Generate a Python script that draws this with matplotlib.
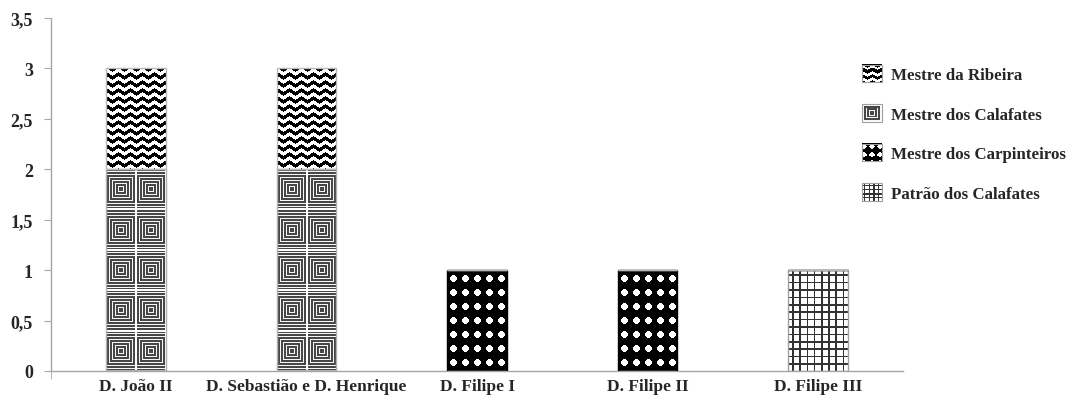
import numpy as np
import matplotlib
matplotlib.use("Agg")
import matplotlib.pyplot as plt
from matplotlib.patches import Patch, Rectangle
from matplotlib.image import BboxImage
from matplotlib.transforms import Bbox, TransformedBbox
from matplotlib.legend_handler import HandlerBase
from matplotlib.ticker import FuncFormatter, FixedLocator

# Cargos por reinado
reinados = ['D. João II', 'D. Sebastião e D. Henrique', 'D. Filipe I',
            'D. Filipe II', 'D. Filipe III']
patrao_calafates = [0, 0, 0, 0, 1]
mestre_carpinteiros = [0, 0, 1, 1, 0]
mestre_calafates = [2, 2, 0, 0, 0]
mestre_ribeira = [1, 1, 0, 0, 0]

plt.rcParams['font.family'] = ['Liberation Serif', 'DejaVu Serif']
plt.rcParams['font.weight'] = 'bold'
TXT = '#262626'
AXC = '#a6a6a6'


# ---- texturas (em pixeis) ----
def rgb(v):
    return np.dstack([v, v, v]).astype(float)


def zigzag(h, w, period=8, wave=12, amp=4):
    y, x = np.mgrid[0:h, 0:w]
    t = (x % wave) / wave
    shift = np.round(amp * np.abs(2 * t - 1))
    dark = ((y + shift) % period) < period / 2
    return rgb(np.where(dark, 0.0, 1.0))


def quadrados(h, w, ncols=2, nrows=5):
    tw, th = w / ncols, h / nrows
    y, x = np.mgrid[0:h, 0:w] + 0.5
    lx = (x % tw) - tw / 2
    ly = (y % th) - th / 2
    d = np.floor(np.maximum(np.abs(lx), np.abs(ly))).astype(int)
    v = np.where(d % 3 == 2, 0.97, 0.28)
    borda = (np.abs(lx) > tw / 2 - 1) | (np.abs(ly) > th / 2 - 1)
    v[borda] = 1.0
    return rgb(v)


def pontos(h, w, sx=12, sy=14, r=3.3, ox=6.5, oy=8.5):
    y, x = np.mgrid[0:h, 0:w] + 0.5
    dx = ((x - ox + sx / 2) % sx) - sx / 2
    dy = ((y - oy + sy / 2) % sy) - sy / 2
    return rgb(np.where(dx ** 2 + dy ** 2 < r ** 2, 1.0, 0.0))


def grelha(h, w, sx=7.2, sy=7.4, lw=1.6):
    y, x = np.mgrid[0:h, 0:w] + 0.5
    linha = ((x + 3) % sx < lw) | ((y + 3) % sy < lw)
    return rgb(np.where(linha, 0.2, 1.0))


fig = plt.figure(figsize=(10.72, 4.06), dpi=100)
ax = fig.add_axes([51 / 1072, 34 / 406, 852 / 1072, 353 / 406])
ax.set_xlim(-0.5, 4.5)
ax.set_ylim(0, 3.5)

x = np.arange(len(reinados))
largura = 0.35
series = [
    ('Patrão dos Calafates', patrao_calafates, grelha, '#a0a0a0'),
    ('Mestre dos Carpinteiros', mestre_carpinteiros, pontos, '#000000'),
    ('Mestre dos Calafates', mestre_calafates, quadrados, '#b0b0b0'),
    ('Mestre da Ribeira', mestre_ribeira, zigzag, '#b8b8b8'),
]

base = np.zeros(len(reinados))
for nome, vals, textura, borda in series:
    barras = ax.bar(x, vals, largura, bottom=base, facecolor='none',
                    edgecolor=borda, linewidth=1, zorder=3)
    for rect in barras:
        x0, y0 = rect.get_xy()
        w, h = rect.get_width(), rect.get_height()
        if h <= 0:
            continue
        p0 = ax.transData.transform((x0, y0))
        p1 = ax.transData.transform((x0 + w, y0 + h))
        wp = int(round(p1[0] - p0[0]))
        hp = int(round(p1[1] - p0[1]))
        ax.imshow(textura(hp, wp), extent=(x0, x0 + w, y0, y0 + h),
                  origin='upper', interpolation='nearest', aspect='auto',
                  zorder=2)
    base = base + np.array(vals)

ax.set_xlim(-0.5, 4.5)
ax.set_ylim(0, 3.5)

# eixos
for s in ['top', 'right']:
    ax.spines[s].set_visible(False)
for s in ['left', 'bottom']:
    ax.spines[s].set_color(AXC)
    ax.spines[s].set_linewidth(1)

ax.set_yticks(np.arange(0, 3.51, 0.5))
ax.yaxis.set_major_formatter(FuncFormatter(lambda v, p: f'{v:g}'.replace('.', ',')))
ax.tick_params(axis='y', length=5, color=AXC, labelsize=13, labelcolor=TXT, pad=8)
ax.set_xticks(x)
ax.set_xticklabels(reinados)
ax.tick_params(axis='x', length=0, labelsize=12.5, labelcolor=TXT, pad=5)
ax.xaxis.set_minor_locator(FixedLocator([-0.5]))
ax.tick_params(axis='x', which='minor', length=6, color=AXC)
for lab in ax.get_xticklabels() + ax.get_yticklabels():
    lab.set_fontweight('bold')


# legenda com as mesmas texturas
class HandlerTextura(HandlerBase):
    def __init__(self, textura):
        super().__init__()
        self.textura = textura

    def create_artists(self, legend, orig_handle, xdescent, ydescent,
                       width, height, fontsize, trans):
        caixa = Bbox.from_bounds(-xdescent, -ydescent, width, height)
        img = BboxImage(TransformedBbox(caixa, trans), interpolation='nearest')
        img.set_data(self.textura)
        moldura = Rectangle((-xdescent, -ydescent), width, height,
                            facecolor='none', edgecolor='#a0a0a0', lw=0.8,
                            transform=trans)
        return [img, moldura]


n = 20
icones = {
    'Mestre da Ribeira': zigzag(n, n, period=7, wave=10, amp=3),
    'Mestre dos Calafates': quadrados(n, n, ncols=1, nrows=1),
    'Mestre dos Carpinteiros': pontos(n, n, sx=8, sy=9, r=2.6, ox=2, oy=4),
    'Patrão dos Calafates': grelha(n, n, sx=4.8, sy=4.8, lw=1.2),
}
handles, mapa = [], {}
for nome in ['Mestre da Ribeira', 'Mestre dos Calafates',
             'Mestre dos Carpinteiros', 'Patrão dos Calafates']:
    hd = Patch(label=nome)
    handles.append(hd)
    mapa[hd] = HandlerTextura(icones[nome])

leg = fig.legend(handles=handles, handler_map=mapa, loc='upper left',
                 bbox_to_anchor=(862 / 1072, 1 - 66 / 406),
                 frameon=False, borderpad=0, borderaxespad=0,
                 handlelength=1.18, handleheight=1.18, handletextpad=0.55,
                 labelspacing=1.25, prop={'size': 12.2, 'weight': 'bold'})
for t in leg.get_texts():
    t.set_color(TXT)

fig.savefig('out.png', dpi=100)
